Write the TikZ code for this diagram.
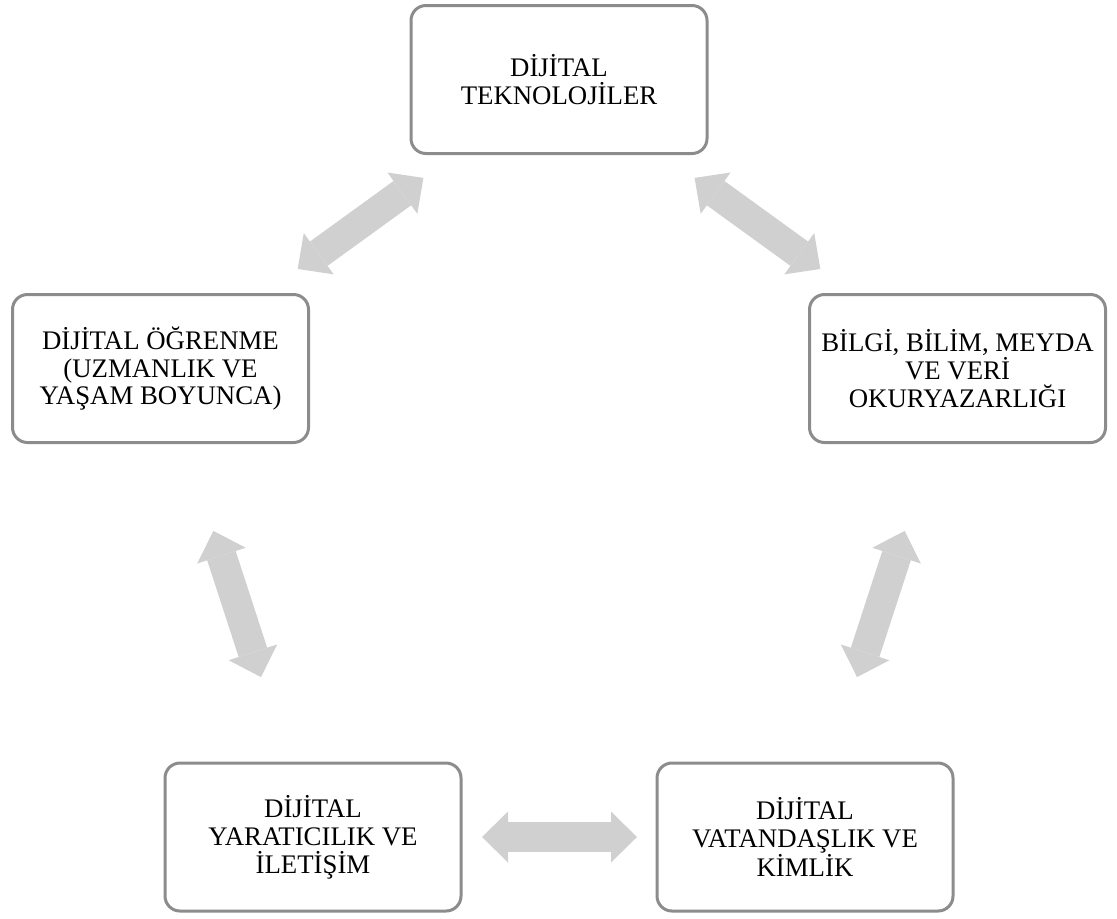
\documentclass[tikz,border=0pt]{standalone}
\usepackage{fontspec}
\setmainfont{Liberation Serif}
\usetikzlibrary{arrows.meta}
\definecolor{boxline}{RGB}{140,140,140}
\definecolor{arrowfill}{RGB}{208,208,208}
\begin{document}
\begin{tikzpicture}[x=0.5pt,y=-0.5pt,
  box/.style={draw=boxline, line width=1.5pt, rounded corners=7.5pt,
    minimum width=148pt, minimum height=74pt, align=center,
    font=\fontsize{13.4}{13.9}\selectfont, inner sep=0pt, fill=white},
  link/.style={draw=arrowfill, line width=15pt,
    {Triangle[width=25.5pt,length=13pt,line width=0pt]}-{Triangle[width=25.5pt,length=13pt,line width=0pt]}}]
\useasboundingbox (0,0) rectangle (1117,918);
\node[box] (top) at (559,79.5) {DİJİTAL\\TEKNOLOJİLER};
\node[box] (left) at (160.5,368.5) {DİJİTAL ÖĞRENME\\(UZMANLIK VE\\YAŞAM BOYUNCA)};
\node[box] (right) at (957.5,368.5) {BİLGİ, BİLİM, MEYDA\\VE VERİ\\OKURYAZARLIĞI};
\node[box] (bl) at (313,837) {DİJİTAL\\YARATICILIK VE\\İLETİŞİM};
\node[box] (br) at (805,837) {DİJİTAL\\VATANDAŞLIK VE\\KİMLİK};
\draw[link, shorten <=19.5pt, shorten >=20.5pt] (top) -- (left);
\draw[link, shorten <=19.5pt, shorten >=20.5pt] (top) -- (right);
\draw[link, shorten <=45.7pt, shorten >=44.4pt] (left) -- (bl);
\draw[link, shorten <=45.7pt, shorten >=44.4pt] (right) -- (br);
\draw[link, shorten <=9.75pt, shorten >=9.25pt] (bl) -- (br);
\end{tikzpicture}
\end{document}
